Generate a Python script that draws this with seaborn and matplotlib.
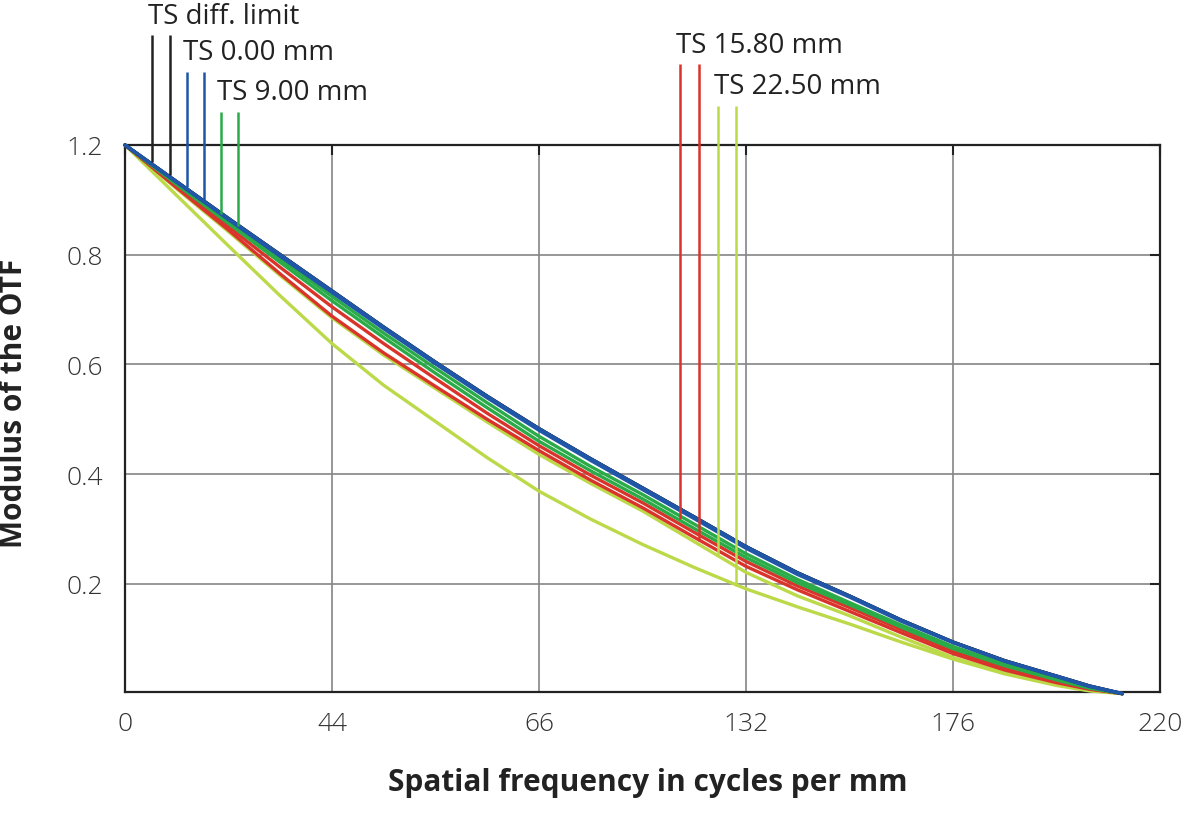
import pandas as pd
import matplotlib.pyplot as plt
import seaborn as sns

# values (x in cycles/mm, y = MTF)
freq = [0, 11, 22, 33, 44, 55, 66, 77, 88, 99, 110, 121, 132, 143, 154, 165, 176, 187, 198, 205, 212]

diff_t = [1.0, 0.933, 0.866, 0.800, 0.734, 0.668, 0.604, 0.542, 0.483, 0.428, 0.375, 0.322, 0.268, 0.220, 0.178, 0.134, 0.094, 0.060, 0.032, 0.014, 0.0]
diff_s = [1.0, 0.933, 0.866, 0.800, 0.734, 0.668, 0.604, 0.542, 0.483, 0.428, 0.375, 0.322, 0.268, 0.220, 0.178, 0.134, 0.094, 0.060, 0.032, 0.014, 0.0]
ts000_t = [1.0, 0.933, 0.866, 0.800, 0.734, 0.668, 0.604, 0.542, 0.483, 0.428, 0.375, 0.322, 0.268, 0.220, 0.178, 0.134, 0.094, 0.060, 0.032, 0.014, 0.0]
ts000_s = [1.0, 0.932, 0.864, 0.797, 0.731, 0.665, 0.601, 0.539, 0.480, 0.425, 0.372, 0.319, 0.265, 0.217, 0.176, 0.132, 0.093, 0.059, 0.031, 0.013, 0.0]
ts900_t = [1.0, 0.930, 0.861, 0.792, 0.724, 0.657, 0.593, 0.530, 0.469, 0.414, 0.363, 0.309, 0.255, 0.208, 0.166, 0.125, 0.086, 0.054, 0.027, 0.011, 0.0]
ts900_s = [1.0, 0.928, 0.857, 0.786, 0.716, 0.649, 0.584, 0.521, 0.460, 0.406, 0.355, 0.301, 0.248, 0.202, 0.162, 0.121, 0.082, 0.051, 0.025, 0.010, 0.0]
ts1580_t = [1.0, 0.925, 0.851, 0.777, 0.705, 0.638, 0.574, 0.511, 0.452, 0.398, 0.348, 0.294, 0.241, 0.196, 0.157, 0.117, 0.078, 0.047, 0.022, 0.009, 0.0]
ts1580_s = [1.0, 0.922, 0.845, 0.765, 0.688, 0.621, 0.560, 0.500, 0.443, 0.389, 0.339, 0.285, 0.232, 0.189, 0.150, 0.111, 0.073, 0.043, 0.020, 0.008, 0.0]
ts2250_t = [1.0, 0.920, 0.842, 0.762, 0.685, 0.617, 0.556, 0.495, 0.436, 0.383, 0.333, 0.277, 0.221, 0.178, 0.142, 0.103, 0.066, 0.038, 0.017, 0.006, 0.0]
ts2250_s = [1.0, 0.908, 0.816, 0.725, 0.638, 0.562, 0.496, 0.430, 0.369, 0.318, 0.272, 0.230, 0.191, 0.158, 0.127, 0.094, 0.063, 0.036, 0.015, 0.005, 0.0]

field_labels = ['TS diff. limit', 'TS 0.00 mm', 'TS 9.00 mm', 'TS 15.80 mm', 'TS 22.50 mm']
field_colors = ['#222222', '#1f56a8', '#2aab48', '#d9342b', '#bcd94a']

# the little drop lines from each label down to its curves
marker_x = [5.7, 9.6, 13.2, 16.8, 20.4, 24.0, 118.0, 122.0, 126.0, 129.9]
marker_top = [1.2, 1.2, 1.133, 1.133, 1.06, 1.06, 1.147, 1.147, 1.071, 1.071]
marker_bottom = [0.969, 0.945, 0.924, 0.898, 0.875, 0.853, 0.318, 0.278, 0.251, 0.196]

xticks = [0, 44, 88, 132, 176, 220]
xtick_labels = ['0', '44', '66', '132', '176', '220']
yticks = [0.2, 0.4, 0.6, 0.8, 1.0]
ytick_labels = ['0.2', '0.4', '0.6', '0.8', '1.2']

curves = [diff_t, diff_s, ts000_t, ts000_s, ts900_t, ts900_s,
          ts1580_t, ts1580_s, ts2250_t, ts2250_s]
rows = []
for i, vals in enumerate(curves):
    for f, v in zip(freq, vals):
        rows.append({'freq': f, 'mtf': v, 'curve': i})
df = pd.DataFrame(rows)

sns.set_style('white')
plt.rcParams['font.family'] = ['Open Sans', 'DejaVu Sans']

fig = plt.figure(figsize=(12, 8.2), dpi=100)
ax = fig.add_axes([125 / 1200, (820 - 693) / 820, 1035 / 1200, 547 / 820])

# draw from bottom curve to top so blue ends up on top
order = [9, 8, 7, 6, 5, 4, 0, 1, 3, 2]
palette = {i: field_colors[i // 2] for i in range(10)}
for i in order:
    sns.lineplot(data=df[df['curve'] == i], x='freq', y='mtf', color=palette[i],
                 linewidth=2.4, legend=False, ax=ax, estimator=None, sort=False,
                 clip_on=False, zorder=3)

marker_colors = [field_colors[i // 2] for i in range(len(marker_x))]
ax.vlines(marker_x, marker_bottom, marker_top, colors=marker_colors,
          linewidth=1.8, clip_on=False, zorder=4)

for k, lab in enumerate(field_labels):
    ax.text(marker_x[2 * k] - 0.8, marker_top[2 * k] + 0.036, lab,
            ha='left', va='center', fontsize=20, color='#222222', clip_on=False)

ax.set_xlim(0, 220)
ax.set_ylim(0.003, 0.995)
ax.set_xticks(xticks)
ax.set_xticklabels(xtick_labels)
ax.set_yticks(yticks)
ax.set_yticklabels(ytick_labels)
ax.tick_params(direction='in', length=7, width=1.5, top=True, right=True,
               labelsize=19, labelcolor='#333333', color='#222222')
ax.tick_params(axis='x', pad=14)
ax.tick_params(axis='y', pad=16)
for lab in ax.get_xticklabels() + ax.get_yticklabels():
    lab.set_fontweight(300)

ax.grid(True, color='#858585', linewidth=1.2)
ax.set_axisbelow(True)
for sp in ax.spines.values():
    sp.set_color('#222222')
    sp.set_linewidth(1.6)

ax.set_xlabel('')
ax.set_ylabel('')
fig.text(14 / 1200, 1 - 403 / 820, 'Modulus of the OTF', rotation=90,
         ha='center', va='center', fontsize=21.5, fontweight='bold', color='#222222')
fig.text(648 / 1200, 1 - 783 / 820, 'Spatial frequency in cycles per mm',
         ha='center', va='center', fontsize=21.5, fontweight='bold', color='#222222')

fig.savefig('out.png', dpi=100)
